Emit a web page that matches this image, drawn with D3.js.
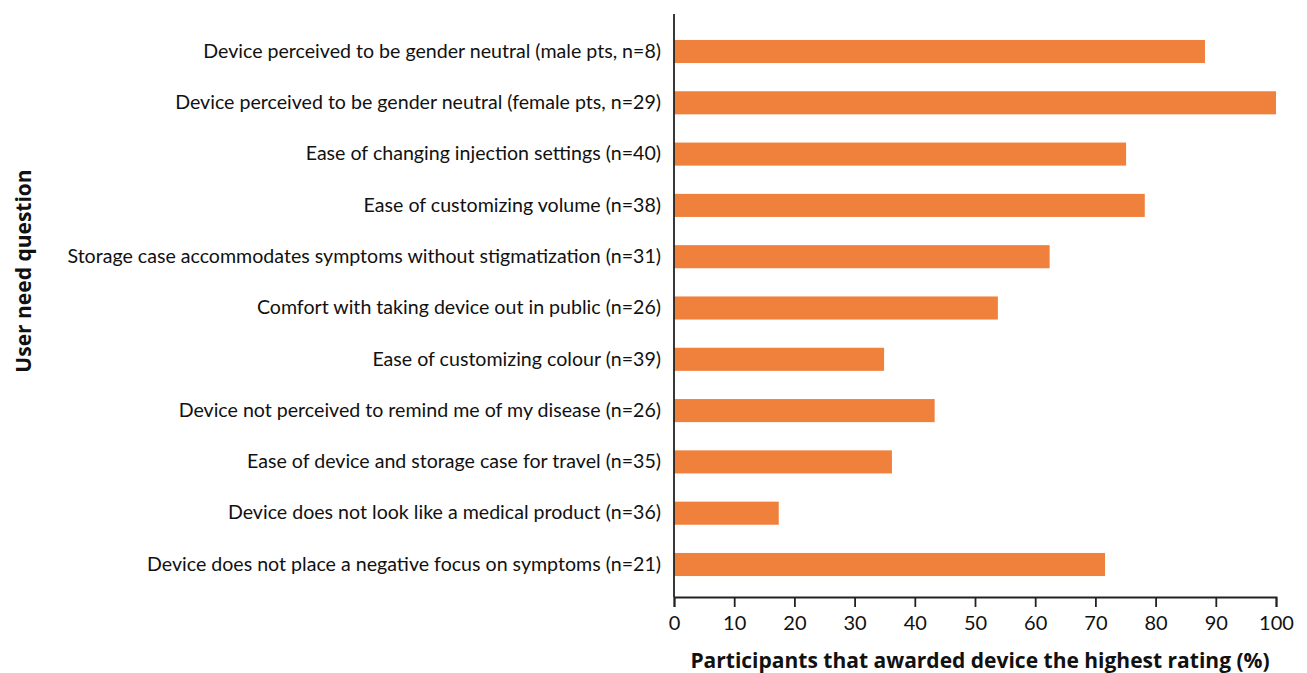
<!DOCTYPE html>
<html>
<head>
<meta charset="utf-8">
<script src="https://cdn.jsdelivr.net/npm/d3@7"></script>
<style>
  body { margin: 0; background: #fff; }
  svg { display: block; }
  .axis text { font-family: Lato, 'Open Sans', sans-serif; fill: #111; }
  .axis path, .axis line { stroke: #222; stroke-width: 1.8; }
</style>
</head>
<body>
<div id="chart"></div>
<script>
// user need questions, top to bottom
const questions = [
  'Device perceived to be gender neutral (male pts, n=8)',
  'Device perceived to be gender neutral (female pts, n=29)',
  'Ease of changing injection settings (n=40)',
  'Ease of customizing volume (n=38)',
  'Storage case accommodates symptoms without stigmatization (n=31)',
  'Comfort with taking device out in public (n=26)',
  'Ease of customizing colour (n=39)',
  'Device not perceived to remind me of my disease (n=26)',
  'Ease of device and storage case for travel (n=35)',
  'Device does not look like a medical product (n=36)',
  'Device does not place a negative focus on symptoms (n=21)'
];

// % of participants giving the highest rating
const highestRating = [88.2, 100, 75.1, 78.2, 62.4, 53.8, 34.9, 43.3, 36.2, 17.4, 71.6];

const xTicks = [0, 10, 20, 30, 40, 50, 60, 70, 80, 90, 100];

const xTitle = 'Participants that awarded device the highest rating (%)';
const yTitle = 'User need question';

// page size and margins
let width = 1307;
let height = 673;
let margin = {top: 14, right: 31, bottom: 76, left: 674};

let svg = d3.select('#chart')
  .append('svg')
  .attr('width', width)
  .attr('height', height);

let innerW = width - margin.left - margin.right;
let innerH = height - margin.top - margin.bottom;

let g = svg.append('g')
  .attr('transform', 'translate(' + margin.left + ',' + margin.top + ')');

// scales
let x = d3.scaleLinear().domain([0, 100]).range([0, innerW]);

let y = d3.scaleBand()
  .domain(questions)
  .range([11.85, 576.15])
  .paddingInner(0.55)
  .paddingOuter(0.275);

// bars
g.append('g')
  .selectAll('rect')
  .data(questions)
  .enter().append('rect')
  .attr('x', 0)
  .attr('y', d => y(d))
  .attr('height', y.bandwidth())
  .attr('width', (d, i) => x(highestRating[i]))
  .attr('fill', '#f0813c');

// y axis, labels only
let yAxis = g.append('g')
  .attr('class', 'axis')
  .call(d3.axisLeft(y).tickSize(0).tickPadding(13));
yAxis.selectAll('text').attr('font-size', 19.6);
yAxis.select('.domain').attr('d', 'M0,0V' + innerH);

// x axis
let xAxis = g.append('g')
  .attr('class', 'axis')
  .attr('transform', 'translate(0,' + innerH + ')')
  .call(d3.axisBottom(x).tickValues(xTicks).tickSize(10).tickSizeOuter(10).tickPadding(9));
xAxis.selectAll('text').attr('font-size', 20);

// axis titles
svg.append('text')
  .attr('x', margin.left + innerW / 2 + 5)
  .attr('y', 668)
  .attr('text-anchor', 'middle')
  .attr('font-family', "'Open Sans', sans-serif")
  .attr('font-weight', 'bold')
  .attr('font-size', 21)
  .attr('fill', '#111')
  .text(xTitle);

svg.append('text')
  .attr('transform', 'translate(31,271) rotate(-90)')
  .attr('text-anchor', 'middle')
  .attr('font-family', "'Open Sans', sans-serif")
  .attr('font-weight', 'bold')
  .attr('font-size', 21)
  .attr('fill', '#111')
  .text(yTitle);
</script>
</body>
</html>
